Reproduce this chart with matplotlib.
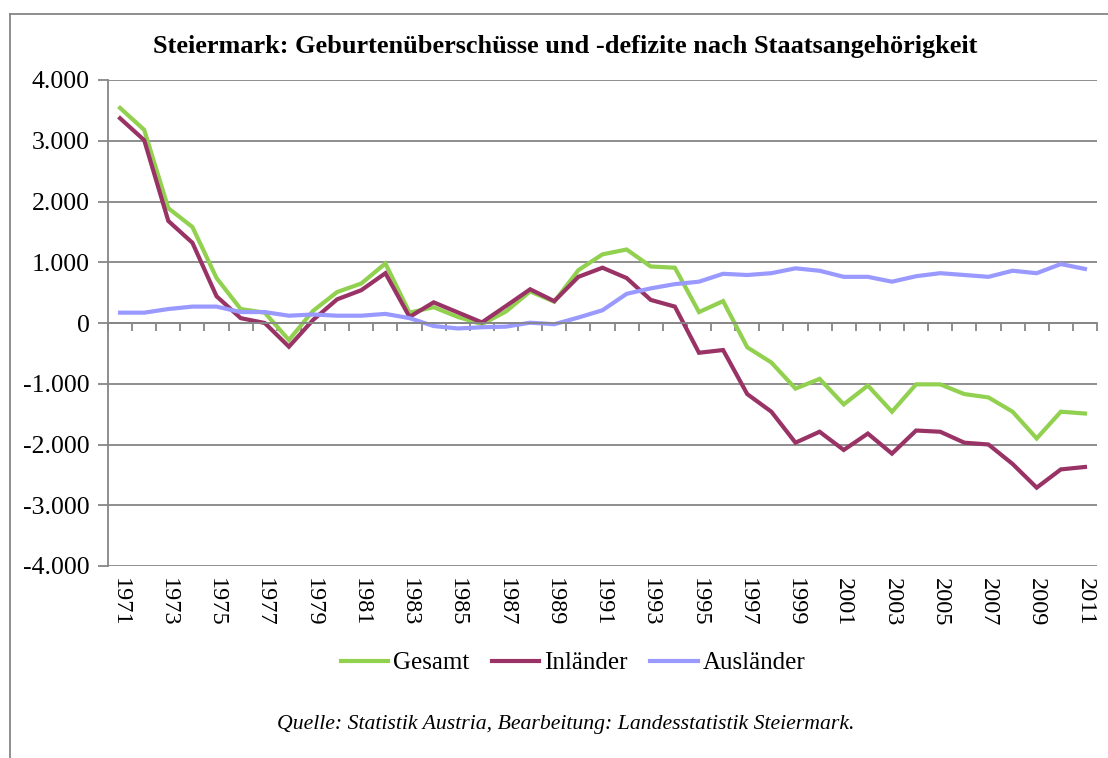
import matplotlib.pyplot as plt
import numpy as np
from matplotlib.lines import Line2D
from matplotlib.ticker import FuncFormatter, MultipleLocator

years = list(range(1971, 2012))

gesamt = [3540, 3180, 1890, 1580, 740, 230, 170, -280, 200, 510,
          650, 980, 170, 260, 100, -20, 190, 520, 350, 870,
          1130, 1210, 930, 910, 180, 360, -400, -650, -1080, -920,
          -1340, -1030, -1460, -1010, -1010, -1170, -1225, -1460, -1900, -1460,
          -1490]
inlaender = [3370, 3010, 1680, 1320, 440, 80, 0, -390, 50, 390,
             540, 820, 100, 340, 175, 10, 280, 555, 360, 760,
             910, 740, 380, 270, -490, -445, -1170, -1460, -1970, -1790,
             -2090, -1820, -2150, -1770, -1790, -1970, -2000, -2320, -2710, -2410,
             -2370]
auslaender = [170, 170, 230, 270, 270, 180, 180, 120, 140, 120,
              120, 150, 80, -50, -90, -70, -60, 5, -20, 90,
              210, 480, 570, 640, 680, 810, 790, 820, 900, 860,
              760, 760, 680, 770, 820, 790, 760, 860, 820, 970,
              890]

series = [("Gesamt", gesamt, "#92D050"),
          ("Inländer", inlaender, "#993366"),
          ("Ausländer", auslaender, "#9999FF")]

title = "Steiermark: Geburtenüberschüsse und -defizite nach Staatsangehörigkeit"
source = "Quelle: Statistik Austria, Bearbeitung: Landesstatistik Steiermark."

plt.rcParams["font.family"] = ["Liberation Serif", "DejaVu Serif"]
grid_col = "#868686"

fig = plt.figure(figsize=(11.08, 7.58), dpi=100)
ax = fig.add_axes([108 / 1108, 1 - 566 / 758, (1097 - 108) / 1108, (566 - 80) / 758])

x = np.arange(len(years))
for name, vals, col in series:
    ax.plot(x, vals, color=col, lw=3.0, label=name, solid_joinstyle="miter")

ax.set_xlim(-0.5, len(years) - 0.5)
ax.set_ylim(-4000, 4000)
ax.yaxis.set_major_locator(MultipleLocator(1000))
ax.yaxis.set_major_formatter(FuncFormatter(lambda v, p: "{:,.0f}".format(v).replace(",", ".")))
ax.tick_params(axis="y", labelsize=18.5, length=7, color=grid_col, width=1.3, pad=6)
ax.grid(axis="y", color=grid_col, lw=1.3)
ax.set_axisbelow(True)

for s in ["top", "right"]:
    ax.spines[s].set_visible(False)
ax.spines["left"].set_color(grid_col)
ax.spines["left"].set_linewidth(1.3)
ax.spines["bottom"].set_position(("data", 0))
ax.spines["bottom"].set_color(grid_col)
ax.spines["bottom"].set_linewidth(1.3)

# category boundary ticks on the zero line
ax.set_xticks(np.arange(-0.5, len(years), 1.0))
ax.tick_params(axis="x", length=6, color=grid_col, width=1.3, labelbottom=False)

# year labels below the plot
sec = ax.secondary_xaxis("bottom")
sec.set_xticks(x[::2])
sec.set_xticklabels([str(y) for y in years[::2]], rotation=270, fontsize=17.5)
sec.tick_params(length=0, pad=9)
sec.spines["bottom"].set_visible(False)

fig.text(565 / 1108, 1 - 47 / 758, title, ha="center", va="center",
         fontsize=18.9, fontweight="bold")

fig.legend(loc="center", bbox_to_anchor=(573 / 1108, 1 - 663 / 758), ncol=3,
           frameon=False, fontsize=18, handlelength=1.9, handletextpad=0.2,
           columnspacing=0.9)

fig.text(566 / 1108, 1 - 725 / 758, source, ha="center", va="center",
         fontsize=15.7, style="italic")

# outer chart frame (cut off at right and bottom)
fig.add_artist(Line2D([10 / 1108, 10 / 1108], [0, 1 - 14 / 758],
                      transform=fig.transFigure, color=grid_col, lw=1.3))
fig.add_artist(Line2D([10 / 1108, 1], [1 - 14 / 758, 1 - 14 / 758],
                      transform=fig.transFigure, color=grid_col, lw=1.3))

fig.savefig("out.png", dpi=100)
